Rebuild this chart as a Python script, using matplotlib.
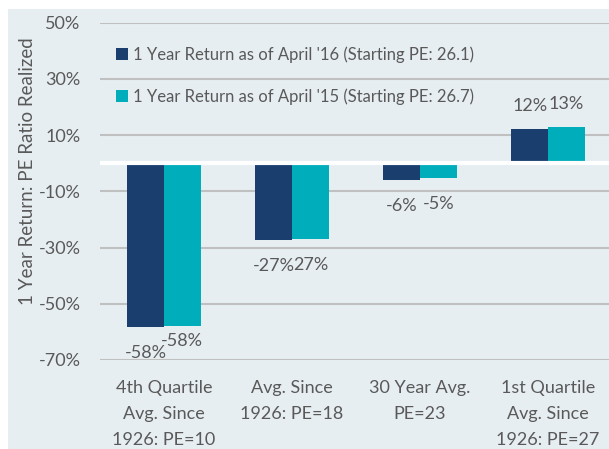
import matplotlib
matplotlib.use('Agg')
from matplotlib import pyplot as plt
from matplotlib.patches import Patch, Rectangle

# chart data
categories = ["4th Quartile\nAvg. Since\n1926: PE=10", "Avg. Since\n1926: PE=18",
              "30 Year Avg.\nPE=23", "1st Quartile\nAvg. Since\n1926: PE=27"]
ret_2016 = [-58.1, -27.2, -6.1, 12.0]
ret_2015 = [-57.9, -26.8, -5.4, 13.0]
labels_2016 = ["-58%", "-27%", "-6%", "12%"]
labels_2015 = ["-58%", "27%", "-5%", "13%"]
series_names = ["1 Year Return as of April '16 (Starting PE: 26.1)",
                "1 Year Return as of April '15 (Starting PE: 26.7)"]
yticks = [50, 30, 10, -10, -30, -50, -70]

NAVY = '#1a3e6e'
TEAL = '#00adba'
BG = '#e7eef2'
GREY_TXT = '#595959'
GRID = '#c0c0c0'

plt.rcParams['font.family'] = ['Lato', 'DejaVu Sans']

W, H = 609, 449
fig = plt.figure(figsize=(W / 100, H / 100), dpi=100)
fig.patches.append(Rectangle((8 / W, 0), 1, (H - 9) / H, transform=fig.transFigure,
                             facecolor=BG, edgecolor='none', zorder=-10))

ax = fig.add_axes([100 / W, 89 / H, 509 / W, 337.5 / H])
ax.set_facecolor('none')

x = list(range(len(categories)))
w = 0.287
ax.bar([i - w / 2 for i in x], ret_2016, w, color=NAVY, zorder=2)
ax.bar([i + w / 2 for i in x], ret_2015, w, color=TEAL, zorder=2)
ax.axhline(0, color='white', lw=3, zorder=3)

for i in x:
    for j, (vals, labs) in enumerate([(ret_2016, labels_2016), (ret_2015, labels_2015)]):
        v = vals[i]
        xpos = i - w / 2 if j == 0 else i + w / 2
        if v < 0:
            off = -15 if (i == 0 and j == 1) else -26
        else:
            off = 23
        ax.annotate(labs[i], (xpos, v), xytext=(0, off * 0.72), textcoords='offset points',
                    ha='center', va='center', fontsize=13, color=GREY_TXT)

ax.set_xlim(-0.5, 3.5 - 3 / 128)
ax.set_ylim(-70, 50)
ax.set_yticks(yticks)
ax.set_yticklabels([f"{t}%" for t in yticks])
ax.set_xticks(x)
ax.set_xticklabels(categories, linespacing=1.75)
ax.grid(axis='y', color=GRID, lw=1.5, zorder=1)
ax.tick_params(length=0, labelsize=13, colors=GREY_TXT)
ax.tick_params(axis='y', pad=14)
ax.tick_params(axis='x', pad=14.5)
for s in ax.spines.values():
    s.set_visible(False)

ax.set_ylabel("1 Year Return: PE Ratio Realized", fontsize=13.5, color=GREY_TXT)
ax.yaxis.set_label_coords(-64 / 509, 0.56)

handles = [Patch(facecolor=NAVY), Patch(facecolor=TEAL)]
ax.legend(handles, series_names, loc='upper left', bbox_to_anchor=(101 / W, 1 - 31 / H),
          bbox_transform=fig.transFigure, frameon=False, fontsize=12,
          handlelength=0.7, handleheight=0.7, handletextpad=0.3,
          labelspacing=1.55, labelcolor=GREY_TXT)

fig.savefig('out.png', dpi=100)
